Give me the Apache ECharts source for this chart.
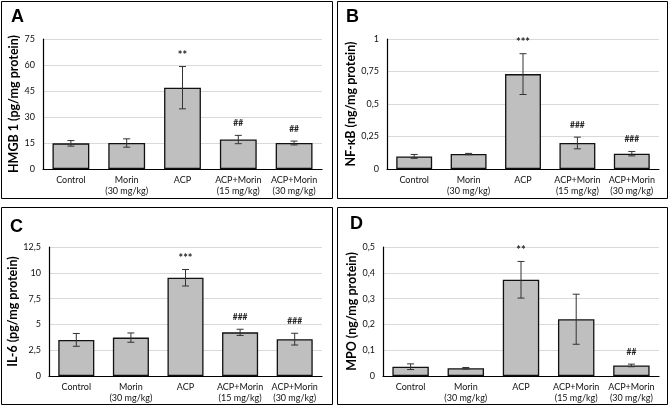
<!DOCTYPE html>
<html><head><meta charset="utf-8">
<script src="https://cdn.jsdelivr.net/npm/echarts@6/dist/echarts.min.js"></script>
<style>html,body{margin:0;padding:0;background:#fff}#c{width:669px;height:406px}</style>
</head><body><div id="c"></div>
<script>
const categories = ['Control', 'Morin\n(30 mg/kg)', 'ACP', 'ACP+Morin\n(15 mg/kg)', 'ACP+Morin\n(30 mg/kg)'];

const hmgbMean = [14.8, 15.0, 46.9, 17.0, 15.0];
const hmgbErr  = [1.6, 2.4, 12.2, 2.4, 1.1];
const hmgbSig  = ['', '', '**', '##', '##'];

const nfkbMean = [0.097, 0.115, 0.73, 0.20, 0.118];
const nfkbErr  = [0.015, 0.005, 0.157, 0.045, 0.017];
const nfkbSig  = ['', '', '***', '###', '###'];

const il6Mean = [3.5, 3.72, 9.52, 4.23, 3.57];
const il6Err  = [0.62, 0.45, 0.8, 0.3, 0.57];
const il6Sig  = ['', '', '***', '###', '###'];

const mpoMean = [0.036, 0.030, 0.373, 0.220, 0.041];
const mpoErr  = [0.011, 0.003, 0.071, 0.097, 0.005];
const mpoSig  = ['', '', '**', '', '##'];

const panels = [
  {letter:'A', name:'HMGB 1 (pg/mg protein)', mean:hmgbMean, err:hmgbErr, sig:hmgbSig, max:75, interval:15,
   grid:{left:43, top:39, width:279, height:130}, gap:19, box:[1,1,331,197], lp:[11,17]},
  {letter:'B', name:'NF-κB (ng/mg protein)', mean:nfkbMean, err:nfkbErr, sig:nfkbSig, max:1, interval:0.25,
   grid:{left:387, top:39, width:272, height:130}, gap:28, box:[337,1,330,197], lp:[346,17]},
  {letter:'C', name:'IL-6 (pg/mg protein)', mean:il6Mean, err:il6Err, sig:il6Sig, max:12.5, interval:2.5,
   grid:{left:49, top:247, width:273, height:129}, gap:26, box:[1,207,331,197], lp:[10,227]},
  {letter:'D', name:'MPO (ng/mg protein)', mean:mpoMean, err:mpoErr, sig:mpoSig, max:0.5, interval:0.1,
   grid:{left:383, top:247, width:276, height:129}, gap:25, box:[337,207,330,197], lp:[350,224]}
];

const FONT = 'Lato, "Open Sans", sans-serif';
const fmt = v => String(Math.round(v*1000)/1000).replace('.', ',');

const grids = [], xAxes = [], yAxes = [], series = [], graphics = [];
panels.forEach((p, k) => {
  grids.push(Object.assign({containLabel:false}, p.grid));
  xAxes.push({type:'category', gridIndex:k, data:categories,
    axisLine:{lineStyle:{color:'#000', width:1.2}}, axisTick:{show:false},
    axisLabel:{color:'#111', fontSize:9, fontFamily:FONT, lineHeight:11, margin:6, interval:0}});
  yAxes.push({type:'value', gridIndex:k, min:0, max:p.max, interval:p.interval,
    name:p.name, nameLocation:'middle', nameGap:p.gap,
    nameTextStyle:{fontSize:12.5, fontWeight:'bold', color:'#000', fontFamily:FONT},
    axisLine:{show:true, lineStyle:{color:'#000', width:1.2}}, axisTick:{show:false},
    splitLine:{lineStyle:{color:'#d9d9d9', width:1}},
    axisLabel:{color:'#111', fontSize:9, fontFamily:FONT, margin:8, formatter:fmt}});
  series.push({type:'bar', xAxisIndex:k, yAxisIndex:k, data:p.mean, barWidth:'66%', z:2,
    itemStyle:{color:'#bfbfbf', borderColor:'#111', borderWidth:1.3}, silent:true});
  const sig = p.sig;
  series.push({type:'custom', xAxisIndex:k, yAxisIndex:k, clip:false, silent:true, z:5,
    data:p.mean.map((m,i)=>[i, m, p.err[i]]), encode:{x:0, y:1},
    renderItem:(params, api) => {
      const i = api.value(0), m = api.value(1), e = api.value(2);
      const t = api.coord([i, m+e]), b = api.coord([i, m-e]);
      const hw = 3.5, st = {stroke:'#333', lineWidth:1};
      const ch = [
        {type:'line', shape:{x1:t[0], y1:t[1], x2:b[0], y2:b[1]}, style:st},
        {type:'line', shape:{x1:t[0]-hw, y1:t[1], x2:t[0]+hw, y2:t[1]}, style:st},
        {type:'line', shape:{x1:b[0]-hw, y1:b[1], x2:b[0]+hw, y2:b[1]}, style:st}
      ];
      const star = sig[i].indexOf('*') >= 0;
      if (sig[i]) ch.push({type:'text', style:{text:sig[i], x:t[0], y:t[1]-(star ? 11 : 12), align:'center',
        verticalAlign:'middle', fontSize:star ? 11 : 8.5, fontWeight:'bold', fontFamily:FONT, fill:'#222'}});
      return {type:'group', children:ch};
    }});
  graphics.push({type:'rect', shape:{x:p.box[0]+0.5, y:p.box[1]+0.5, width:p.box[2], height:p.box[3]},
    style:{fill:'none', stroke:'#000', lineWidth:1}, silent:true});
  graphics.push({type:'text', x:p.lp[0], y:p.lp[1], style:{text:p.letter, fontSize:18, fontWeight:'bold',
    fontFamily:'"Liberation Sans", Arial, sans-serif', fill:'#000', verticalAlign:'middle'}, silent:true});
});

const chart = echarts.init(document.getElementById('c'), null, {renderer:'canvas'});
chart.setOption({animation:false, backgroundColor:'#fff', grid:grids, xAxis:xAxes, yAxis:yAxes, series:series, graphic:graphics});
</script></body></html>
